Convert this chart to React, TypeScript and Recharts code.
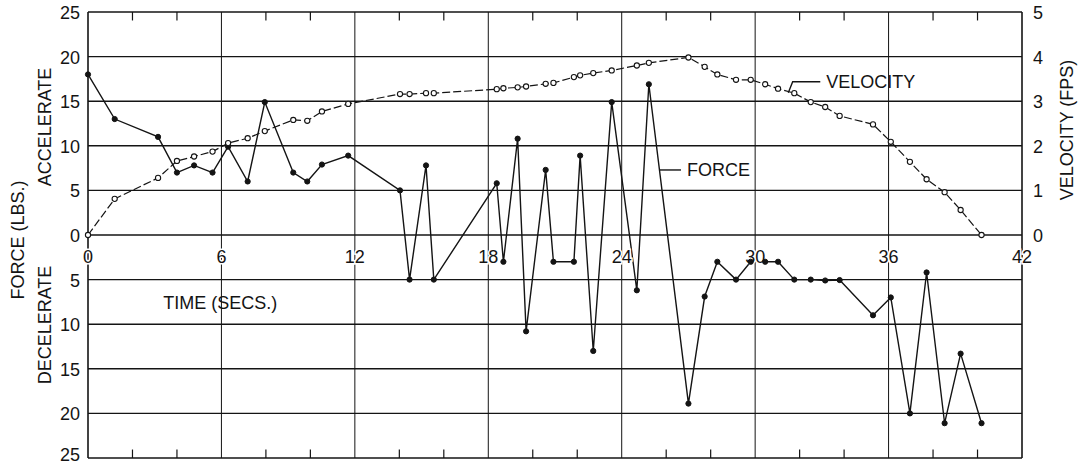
import React from 'react';
import { LineChart, Line, XAxis, YAxis, ReferenceLine, ReferenceDot } from 'recharts';

const time = [0, 1.2, 3.15, 4.0, 4.77, 5.6, 6.3, 7.18, 7.95, 9.23, 9.86, 10.52, 11.7, 14.03, 14.46, 15.2, 15.55, 18.38, 18.68, 19.32, 19.7, 20.58, 20.93, 21.85, 22.13, 22.72, 23.55, 24.68, 25.22, 27.0, 27.73, 28.3, 29.14, 29.8, 30.45, 31.03, 31.76, 32.5, 33.15, 33.8, 35.3, 36.1, 36.96, 37.71, 38.52, 39.24, 40.18];
const force = [18, 13, 11, 7, 7.8, 7, 9.9, 6, 14.9, 7, 6, 7.9, 8.9, 5, -5, 7.8, -5, 5.8, -3, 10.8, -10.8, 7.3, -3, -3, 8.9, -13, 14.9, -6.2, 16.9, -18.9, -6.9, -3, -5, -3, -3, -3, -5, -5, -5.1, -5.05, -9, -7, -20, -4.2, -21.1, -13.3, -21.1];
const velocity = [0, 0.81, 1.28, 1.66, 1.76, 1.87, 2.06, 2.17, 2.33, 2.58, 2.56, 2.77, 2.94, 3.16, 3.16, 3.18, 3.18, 3.27, 3.29, 3.31, 3.33, 3.39, 3.41, 3.54, 3.58, 3.63, 3.69, 3.8, 3.86, 3.98, 3.77, 3.6, 3.48, 3.48, 3.38, 3.28, 3.18, 2.98, 2.87, 2.67, 2.48, 2.09, 1.64, 1.25, 0.96, 0.56, 0];

const timeTicks = [0, 6, 12, 18, 24, 30, 36, 42];
const innerTimeLines = [6, 12, 18, 24, 30, 36];
const minorTimeTicks = [2, 4, 8, 10, 14, 16, 20, 22, 26, 28, 32, 34, 38, 40];
const forceTicks = [-25, -20, -15, -10, -5, 0, 5, 10, 15, 20, 25];
const velocityTicks = [0, 1, 2, 3, 4, 5];

const data = time.map((t, i) => ({ t, force: force[i], velocity: velocity[i] }));

const FONT = '"Liberation Sans", Arial, sans-serif';
const INK = '#141414';

const ForceTick = (p: any) => {
  const v = p.payload.value;
  const shift = v === -25 ? -3 : 1;
  return (
    <text x={p.x} y={p.y + shift} textAnchor="end" dominantBaseline="central" fontSize={18} fontFamily={FONT} fill={INK}>
      {Math.abs(v)}
    </text>
  );
};

const VelocityTick = (p: any) => (
  <text x={p.x} y={p.y + 1} textAnchor="start" dominantBaseline="central" fontSize={18} fontFamily={FONT} fill={INK}>
    {p.payload.value}
  </text>
);

export default function App() {
  return (
    <div style={{ position: 'absolute', left: 0, top: 0, background: '#fff' }}>
      <LineChart
        width={1081}
        height={464}
        data={data}
        margin={{ top: 12, right: 0, bottom: 6, left: 0 }}
        style={{ fontFamily: FONT }}
      >
        <XAxis dataKey="t" type="number" domain={[0, 42]} ticks={timeTicks} hide />
        <YAxis
          yAxisId="f"
          width={88}
          domain={[-25, 25]}
          ticks={forceTicks}
          tickLine={false}
          axisLine={{ stroke: INK, strokeWidth: 1.6 }}
          tick={<ForceTick />}
          interval={0}
        />
        <YAxis
          yAxisId="v"
          orientation="right"
          width={59}
          domain={[-5, 5]}
          ticks={velocityTicks}
          tickLine={false}
          tickMargin={5}
          axisLine={{ stroke: INK, strokeWidth: 1.6 }}
          tick={<VelocityTick />}
          interval={0}
        />
        {forceTicks.map((f) => (
          <ReferenceLine key={'h' + f} yAxisId="f" y={f} stroke={INK} strokeWidth={1.4} />
        ))}
        {innerTimeLines.map((t) => (
          <ReferenceLine key={'v' + t} yAxisId="f" x={t} stroke={INK} strokeWidth={1} />
        ))}
        {minorTimeTicks.map((t) => (
          <ReferenceLine
            key={'mt' + t}
            yAxisId="f"
            segment={[{ x: t, y: 25 }, { x: t, y: 24.05 }]}
            stroke={INK}
            strokeWidth={1.2}
          />
        ))}
        {minorTimeTicks.map((t) => (
          <ReferenceLine
            key={'mb' + t}
            yAxisId="f"
            segment={[{ x: t, y: -25 }, { x: t, y: -24.05 }]}
            stroke={INK}
            strokeWidth={1.2}
          />
        ))}
        {timeTicks.map((t) => (
          <ReferenceDot
            key={'xl' + t}
            yAxisId="f"
            x={t}
            y={0}
            r={1}
            ifOverflow="visible"
            shape={(p: any) => (
              <text
                x={p.cx}
                y={p.cy + 22}
                textAnchor="middle"
                dominantBaseline="central"
                fontSize={18}
                fontFamily={FONT}
                fill={INK}
                stroke="#fff"
                strokeWidth={3}
                paintOrder="stroke"
              >
                {t}
              </text>
            )}
          />
        ))}
        <Line
          yAxisId="f"
          dataKey="force"
          type="linear"
          stroke={INK}
          strokeWidth={1.4}
          dot={{ r: 2.6, fill: INK, stroke: INK, strokeWidth: 1 }}
          isAnimationActive={false}
        />
        <Line
          yAxisId="v"
          dataKey="velocity"
          type="linear"
          stroke={INK}
          strokeWidth={1.2}
          strokeDasharray="8 3"
          dot={{ r: 2.6, fill: '#fff', stroke: INK, strokeWidth: 1.1, strokeDasharray: '' }}
          isAnimationActive={false}
        />
        <ReferenceDot
          yAxisId="v"
          x={31.49}
          y={3.19}
          r={1}
          ifOverflow="visible"
          shape={(p: any) => (
            <g>
              <path
                d={`M${p.cx},${p.cy} L${p.cx + 4.4},${p.cy - 11} L${p.cx + 32},${p.cy - 11}`}
                fill="none"
                stroke={INK}
                strokeWidth={1.4}
              />
              <text x={p.cx + 38} y={p.cy - 11} dominantBaseline="central" fontSize={18} fontFamily={FONT} fill={INK}>
                VELOCITY
              </text>
            </g>
          )}
        />
        <ReferenceDot
          yAxisId="f"
          x={25.72}
          y={7.29}
          r={1}
          ifOverflow="visible"
          shape={(p: any) => (
            <g>
              <path d={`M${p.cx},${p.cy} L${p.cx + 21},${p.cy}`} fill="none" stroke={INK} strokeWidth={1.4} />
              <text x={p.cx + 27} y={p.cy} dominantBaseline="central" fontSize={18} fontFamily={FONT} fill={INK}>
                FORCE
              </text>
            </g>
          )}
        />
        <ReferenceDot
          yAxisId="f"
          x={5.95}
          y={-7.6}
          r={1}
          ifOverflow="visible"
          shape={(p: any) => (
            <text x={p.cx} y={p.cy} textAnchor="middle" dominantBaseline="central" fontSize={18} fontFamily={FONT} fill={INK}>
              TIME (SECS.)
            </text>
          )}
        />
        <text transform="translate(18,240) rotate(-90)" textAnchor="middle" dominantBaseline="central" fontSize={18} fontFamily={FONT} fill={INK}>
          FORCE (LBS.)
        </text>
        <text transform="translate(45,127) rotate(-90)" textAnchor="middle" dominantBaseline="central" fontSize={18} fontFamily={FONT} fill={INK}>
          ACCELERATE
        </text>
        <text transform="translate(45,325) rotate(-90)" textAnchor="middle" dominantBaseline="central" fontSize={18} fontFamily={FONT} fill={INK}>
          DECELERATE
        </text>
        <text transform="translate(1067,130) rotate(-90)" textAnchor="middle" dominantBaseline="central" fontSize={18} fontFamily={FONT} fill={INK}>
          VELOCITY (FPS)
        </text>
      </LineChart>
    </div>
  );
}
